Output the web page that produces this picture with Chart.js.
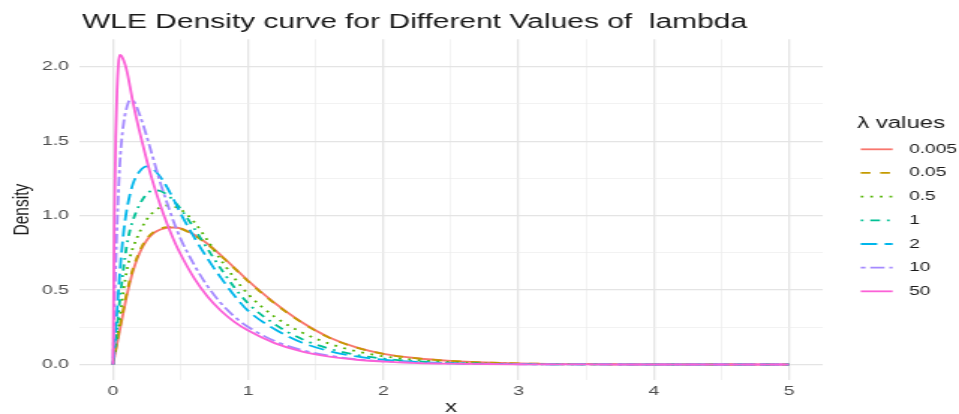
<!DOCTYPE html>
<html>
<head>
<meta charset="utf-8">
<script src="https://cdn.jsdelivr.net/npm/chart.js@4.4.1/dist/chart.umd.min.js"></script>
<style>
  html, body { margin: 0; padding: 0; background: #ffffff; overflow: hidden; }
  #chart { display: block; }
</style>
</head>
<body>
<canvas id="chart" width="640" height="414" style="width:959px;height:414px"></canvas>
<script>
// ---- data -------------------------------------------------------------
const xValues = [0, 0.01, 0.02, 0.03, 0.04, 0.05, 0.06, 0.08, 0.1, 0.125, 0.15, 0.2, 0.25, 0.3, 0.35, 0.4, 0.45, 0.5,
                 0.6, 0.7, 0.8, 0.9, 1.0, 1.2, 1.4, 1.6, 1.8, 2.0, 2.25, 2.5, 2.75, 3.0, 3.5, 4.0, 4.5, 5.0];

const lambdaLabels = ['0.005', '0.05', '0.5', '1', '2', '10', '50'];

const densityL0005 = [0, .05, .095, .14, .185, .23, .275, .365, .455, .55, .635, .755, .835, .882, .907, .918, .92, .914,
                      .872, .81, .732, .648, .562, .41, .282, .182, .115, .072, .042, .0245, .014, .008, .0025, .0008, .0002, .0001];
const densityL005  = [0, .055, .105, .155, .205, .25, .295, .385, .475, .57, .65, .768, .845, .89, .913, .922, .922, .913,
                      .868, .806, .728, .644, .558, .407, .279, .18, .114, .071, .041, .024, .0137, .0078, .0024, .0008, .0002, .0001];
const densityL05   = [0, .06, .12, .185, .245, .31, .38, .51, .62, .72, .79, .895, .975, 1.025, 1.055, 1.068, 1.062, 1.042,
                      .957, .832, .70, .578, .472, .318, .214, .14, .089, .055, .03, .016, .008, .004, .001, .0003, .0001, 0];
const densityL1    = [0, .08, .16, .25, .34, .43, .51, .66, .79, .9, .975, 1.08, 1.145, 1.17, 1.165, 1.14, 1.098, 1.045,
                      .915, .775, .64, .515, .41, .268, .17, .106, .065, .04, .021, .011, .0055, .0028, .0007, .0002, .0001, 0];
const densityL2    = [0, .11, .23, .36, .49, .61, .72, .9, 1.03, 1.14, 1.22, 1.3, 1.33, 1.31, 1.26, 1.19, 1.105, 1.015,
                      .855, .71, .58, .46, .36, .235, .146, .09, .054, .032, .017, .0085, .0043, .0022, .0006, .00015, .00004, 0];
const densityL10   = [0, .35, .66, .93, 1.16, 1.34, 1.47, 1.63, 1.72, 1.775, 1.77, 1.67, 1.53, 1.375, 1.22, 1.085, .955, .845,
                      .67, .525, .41, .32, .252, .156, .096, .059, .036, .022, .012, .0063, .0034, .0018, .0005, .00014, .00004, 0];
const densityL50   = [0, .98, 1.53, 1.84, 2.02, 2.08, 2.075, 2.04, 1.98, 1.87, 1.75, 1.55, 1.37, 1.21, 1.07, .945, .835, .74,
                      .58, .455, .36, .285, .228, .142, .087, .053, .032, .019, .01, .0055, .003, .0016, .0004, .0001, 0, 0];

const xTickValues = [0, 0.5, 1, 1.5, 2, 2.5, 3, 3.5, 4, 4.5, 5];
const xTickLabels = ['0', '', '1', '', '2', '', '3', '', '4', '', '5'];
const yTickValues = [0, 0.25, 0.5, 0.75, 1, 1.25, 1.5, 1.75, 2];
const yTickLabels = ['0.0', '', '0.5', '', '1.0', '', '1.5', '', '2.0'];

const chartTitle = 'WLE Density curve for Different Values of  lambda';
const xTitle = 'x';
const yTitle = 'Density';
const legendTitle = 'λ values';

// ---- styling ----------------------------------------------------------
const FONT = "'Liberation Sans', Arial, Helvetica, sans-serif";
const seriesList = [densityL0005, densityL005, densityL05, densityL1, densityL2, densityL10, densityL50];
const lineColors = ['#F8766D', '#C49A00', '#53B400', '#00C094', '#00B6EB', '#A58AFF', '#FB61D7'];
const lineDashes = [[], [6.5, 6.5], [1.8, 4.6], [1.8, 4.6, 6.5, 4.6], [11, 5], [3.2, 3.2, 9.5, 3.2], []];
const LINE_W = 1.8;

const datasets = seriesList.map((vals, i) => ({
  label: lambdaLabels[i],
  data: xValues.map((x, j) => ({ x: x, y: vals[j] })),
  borderColor: lineColors[i],
  borderWidth: LINE_W,
  borderDash: lineDashes[i],
  borderCapStyle: 'butt',
  pointRadius: 0,
  fill: false,
  cubicInterpolationMode: 'monotone',
  order: 20 - i
}));

const majorGrid = '#E4E4E4';
const minorGrid = '#EDEDED';

// titles and legend panel
const textPlugin = {
  id: 'wleText',
  afterDraw(chart) {
    const ctx = chart.ctx;
    const area = chart.chartArea;
    ctx.save();

    // main title
    ctx.fillStyle = '#1A1A1A';
    ctx.font = `20px ${FONT}`;
    ctx.textAlign = 'left';
    ctx.textBaseline = 'alphabetic';
    ctx.fillText(chartTitle, 54.7, 28.3);

    // axis titles
    ctx.font = `16px ${FONT}`;
    ctx.textAlign = 'center';
    ctx.fillText(xTitle, (area.left + area.right) / 2, 412);

    ctx.save();
    ctx.translate(18.8, (area.top + area.bottom) / 2);
    ctx.rotate(-Math.PI / 2);
    ctx.font = `15.5px ${FONT}`;
    ctx.textAlign = 'center';
    ctx.textBaseline = 'alphabetic';
    ctx.fillText(yTitle, 0, 0);
    ctx.restore();

    // legend
    ctx.font = `16px ${FONT}`;
    ctx.textAlign = 'left';
    ctx.textBaseline = 'alphabetic';
    ctx.fillStyle = '#1A1A1A';
    ctx.fillText(legendTitle, 572, 128.3);

    ctx.font = `12.8px ${FONT}`;
    ctx.textBaseline = 'middle';
    chart.data.datasets.forEach((ds, i) => {
      const y = 149.3 + i * 23.67;
      ctx.save();
      ctx.strokeStyle = ds.borderColor;
      ctx.lineWidth = LINE_W;
      ctx.setLineDash(ds.borderDash);
      ctx.beginPath();
      ctx.moveTo(574.4, y);
      ctx.lineTo(595.7, y);
      ctx.stroke();
      ctx.restore();
      ctx.fillStyle = '#1A1A1A';
      ctx.fillText(ds.label, 606.7, y);
    });
    ctx.restore();
  }
};

new Chart(document.getElementById('chart'), {
  type: 'line',
  data: { datasets: datasets },
  options: {
    responsive: false,
    maintainAspectRatio: false,
    devicePixelRatio: 1,
    animation: false,
    events: [],
    layout: { padding: { left: 0, top: 39.3, right: 90.9, bottom: 0 } },
    plugins: { legend: { display: false }, tooltip: { enabled: false }, title: { display: false } },
    scales: {
      x: {
        type: 'linear',
        min: -0.25,
        max: 5.25,
        afterFit: s => { s.height = 34; },
        afterBuildTicks: s => { s.ticks = xTickValues.map(v => ({ value: v })); },
        border: { display: false },
        grid: {
          drawTicks: false,
          color: c => (c.tick && Number.isInteger(c.tick.value)) ? majorGrid : minorGrid,
          lineWidth: c => (c.tick && Number.isInteger(c.tick.value)) ? 1.3 : 0.7
        },
        ticks: {
          autoSkip: false,
          maxRotation: 0,
          padding: 4,
          color: '#4D4D4D',
          font: { family: FONT, size: 13 },
          callback: (v, i) => xTickLabels[i]
        }
      },
      y: {
        type: 'linear',
        min: -0.104,
        max: 2.184,
        afterFit: s => { s.width = 52.85; },
        afterBuildTicks: s => { s.ticks = yTickValues.map(v => ({ value: v })); },
        border: { display: false },
        grid: {
          drawTicks: false,
          color: c => (c.tick && Math.abs(c.tick.value * 2 - Math.round(c.tick.value * 2)) < 1e-9) ? majorGrid : minorGrid,
          lineWidth: c => (c.tick && Math.abs(c.tick.value * 2 - Math.round(c.tick.value * 2)) < 1e-9) ? 1.3 : 0.7
        },
        ticks: {
          autoSkip: false,
          padding: 6.8,
          color: '#4D4D4D',
          font: { family: FONT, size: 13 },
          callback: (v, i) => yTickLabels[i]
        }
      }
    }
  },
  plugins: [textPlugin]
});
</script>
</body>
</html>
